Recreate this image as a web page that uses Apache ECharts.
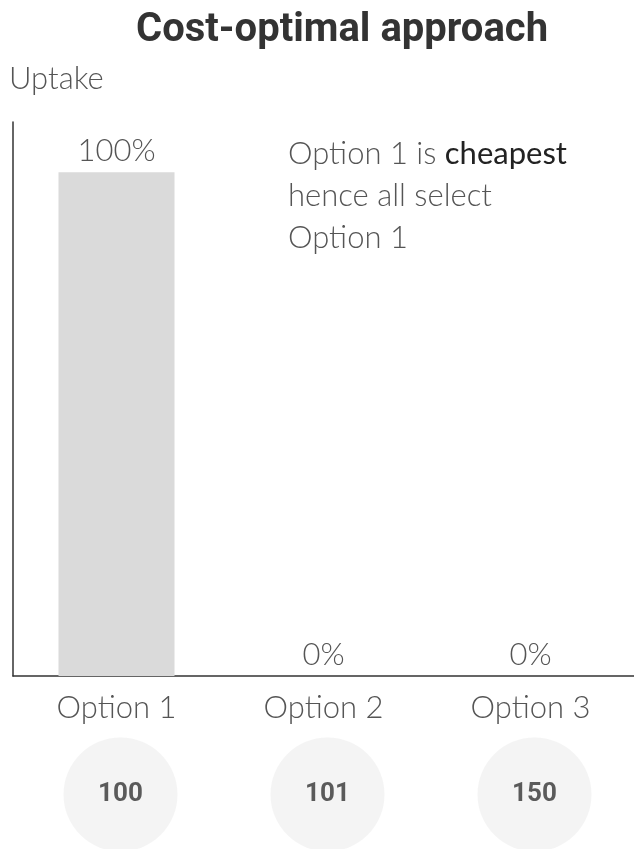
<!DOCTYPE html>
<html>
<head>
<meta charset="utf-8">
<script src="https://cdn.jsdelivr.net/npm/echarts@6/dist/echarts.min.js"></script>
<style>
  html, body { margin: 0; padding: 0; background: #fff; }
  #chart { width: 634px; height: 849px; }
</style>
</head>
<body>
<div id="chart"></div>
<script>
// Options and their uptake share (%)
const categories = ['Option 1', 'Option 2', 'Option 3'];
const uptake = [100, 0, 0];
// Cost of each option, shown in the circles below the axis
const costs = [100, 101, 150];

const lightFont = 'Lato';

const chart = echarts.init(document.getElementById('chart'));
chart.setOption({
  backgroundColor: '#ffffff',
  animation: false,
  title: {
    text: 'Cost-optimal approach',
    left: 131,
    top: 6,
    textStyle: { fontFamily: 'Roboto', fontWeight: 'bold', fontSize: 40, color: '#333' }
  },
  grid: [
    { left: 13, right: 0, top: 122, bottom: 173 },
    { left: 13, right: 0, top: 740, height: 110 }
  ],
  xAxis: [
    {
      type: 'category', gridIndex: 0, data: categories,
      axisLine: { lineStyle: { color: '#333', width: 1.5 } },
      axisTick: { show: false },
      axisLabel: { fontFamily: lightFont, fontWeight: 300, fontSize: 31, color: '#555', margin: 16 }
    },
    {
      type: 'category', gridIndex: 1, data: categories,
      axisLine: { show: false }, axisTick: { show: false }, axisLabel: { show: false }
    }
  ],
  yAxis: [
    {
      type: 'value', gridIndex: 0, min: 0, max: 110,
      name: 'Uptake',
      nameLocation: 'end',
      nameGap: 28,
      nameTextStyle: { fontFamily: lightFont, fontWeight: 300, fontSize: 31, color: '#555', align: 'left', padding: [0, 0, 0, -4] },
      axisLine: { show: true, lineStyle: { color: '#333', width: 1.5 } },
      axisTick: { show: false },
      axisLabel: { show: false },
      splitLine: { show: false }
    },
    {
      type: 'value', gridIndex: 1, min: 0, max: 1,
      axisLine: { show: false }, axisTick: { show: false }, axisLabel: { show: false }, splitLine: { show: false }
    }
  ],
  series: [
    {
      type: 'bar',
      xAxisIndex: 0, yAxisIndex: 0,
      data: uptake,
      barWidth: 116,
      itemStyle: { color: '#dadada' },
      label: {
        show: true, position: 'top', distance: 6,
        formatter: p => p.value + '%',
        fontFamily: lightFont, fontWeight: 300, fontSize: 31, color: '#555'
      }
    },
    {
      type: 'scatter',
      xAxisIndex: 1, yAxisIndex: 1,
      data: costs.map((c, i) => ({ value: [i, 0.5], cost: c })),
      symbol: 'circle',
      symbolSize: 114,
      symbolOffset: [4, 0],
      itemStyle: { color: '#f1f1f1' },
      label: {
        show: true, position: 'inside',
        formatter: p => String(p.data.cost),
        fontFamily: 'Roboto', fontWeight: 'bold', fontSize: 26, color: '#333'
      }
    }
  ],
  graphic: [
    {
      type: 'text',
      left: 288,
      top: 133,
      style: {
        text: 'Option 1 is {b|cheapest}\nhence all select\nOption 1',
        fontFamily: lightFont,
        fontWeight: 300,
        fontSize: 31,
        lineHeight: 42,
        fill: '#555',
        rich: {
          b: { fontFamily: lightFont, fontWeight: 400, fontSize: 31, fill: '#222', color: '#222' }
        }
      }
    }
  ]
});
</script>
</body>
</html>
